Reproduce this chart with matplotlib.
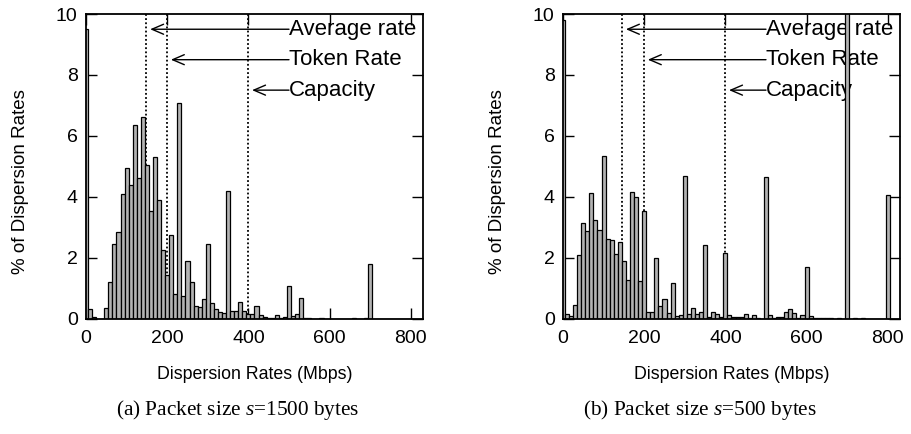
import matplotlib
matplotlib.use("Agg")
import matplotlib.pyplot as plt
import numpy as np

plt.rcParams['font.family'] = ['Liberation Sans', 'DejaVu Sans']
plt.rcParams['mathtext.fontset'] = 'custom'
plt.rcParams['mathtext.it'] = 'Liberation Serif:italic'
plt.rcParams['mathtext.rm'] = 'Liberation Serif'

# Bin centres (Mbps), 10 Mbps bins
bins = list(range(0, 830, 10))

# (a) Packet size 1500 bytes: % of dispersion rates per bin
pct_1500 = [9.5, 0.3, 0.05, 0, 0, 0.33, 1.2, 2.46, 2.84, 4.09,
            4.93, 4.38, 6.36, 4.6, 6.63, 5.03, 3.52, 5.31, 3.89, 2.25,
            1.43, 2.73, 0.8, 7.07, 0.74, 1.88, 1.2, 0.4, 0.37, 0.64,
            2.44, 0.52, 0.3, 0.22, 0.17, 4.2, 0.25, 0.26, 0.55, 0.25,
            0.14, 0.14, 0.4, 0.1, 0.05, 0.03, 0.03, 0.12, 0.01, 0.05,
            1.08, 0.07, 0.14, 0.66, 0.02, 0.01, 0, 0, 0.01, 0,
            0, 0, 0, 0, 0, 0, 0.02, 0, 0, 0.01,
            1.79, 0, 0, 0, 0, 0, 0, 0, 0, 0,
            0, 0, 0]

# (b) Packet size 500 bytes
pct_500 = [9.8, 0.15, 0.08, 0.44, 2.07, 3.13, 2.86, 4.12, 3.22, 2.91,
           5.35, 2.62, 2.58, 2.12, 2.5, 1.9, 1.27, 4.16, 3.99, 1.23,
           3.54, 0.22, 0.21, 1.98, 0.41, 0.63, 0.19, 1.16, 0.08, 0.1,
           4.68, 0.15, 0.36, 0.15, 0.23, 2.42, 0.05, 0.21, 0.14, 0.06,
           2.14, 0.12, 0.06, 0.06, 0.06, 0.16, 0.02, 0.11, 0.03, 0,
           4.66, 0.11, 0.01, 0.06, 0.06, 0.2, 0.31, 0.18, 0.03, 0.12,
           1.7, 0.07, 0.02, 0.01, 0.01, 0.01, 0.01, 0, 0.03, 0,
           12.0, 0, 0.02, 0, 0.03, 0, 0, 0, 0, 0,
           4.06, 0, 0]

# Reference rates (Mbps): average rate, token rate, capacity
marks_1500 = [149, 200, 400]
marks_500 = [146, 200, 400]
mark_labels = ["Average rate", "Token Rate", "Capacity"]
mark_y = [9.5, 8.5, 7.5]

x_ticks = [0, 200, 400, 600, 800]
y_ticks = [0, 2, 4, 6, 8, 10]

captions = ["(a) Packet size $s$=1500 bytes", "(b) Packet size $s$=500 bytes"]
caption_x = [238 / 912, 700 / 912]

fig = plt.figure(figsize=(9.12, 4.34), dpi=100)
ax_pos = [[0.0943, 0.2661, 0.3695, 0.7016], [0.6173, 0.2661, 0.3695, 0.7016]]

for pos, data, marks, cap, cx in zip(ax_pos, [pct_1500, pct_500],
                                     [marks_1500, marks_500], captions, caption_x):
    ax = fig.add_axes(pos)
    ax.bar(bins, data, width=10, color='#b3b3b3', edgecolor='black',
           linewidth=0.9, zorder=3)
    for m, lab, yy in zip(marks, mark_labels, mark_y):
        ax.plot([m, m], [0, 10], color='black', linestyle=(0, (1, 1.3)),
                linewidth=1.3, zorder=2)
        ax.annotate('', xy=(m + 9, yy), xytext=(500, yy),
                    arrowprops=dict(arrowstyle='->,head_length=0.7,head_width=0.3',
                                    lw=1.0, color='black', shrinkA=0, shrinkB=0,
                                    mutation_scale=12), zorder=1)
        ax.text(500, yy, lab, fontsize=16, ha='left', va='center', zorder=1)
    ax.set_xlim(0, 830)
    ax.set_ylim(0, 10)
    ax.set_xticks(x_ticks)
    ax.set_yticks(y_ticks)
    ax.tick_params(direction='in', length=8, width=1, top=True, right=True,
                   labelsize=14)
    ax.tick_params(axis='x', pad=8)
    ax.tick_params(axis='y', pad=6)
    for s in ax.spines.values():
        s.set_linewidth(1.3)
        s.set_zorder(5)
    ax.set_xlabel("Dispersion Rates (Mbps)", fontsize=12.8, labelpad=14)
    ax.set_ylabel("% of Dispersion Rates", fontsize=13.5)
    ax.yaxis.set_label_coords(-0.17, 0.45)
    fig.text(cx, 0.055, cap, ha='center', va='center', fontsize=15.3,
             family='Liberation Serif')

fig.savefig("out.png", dpi=100)
